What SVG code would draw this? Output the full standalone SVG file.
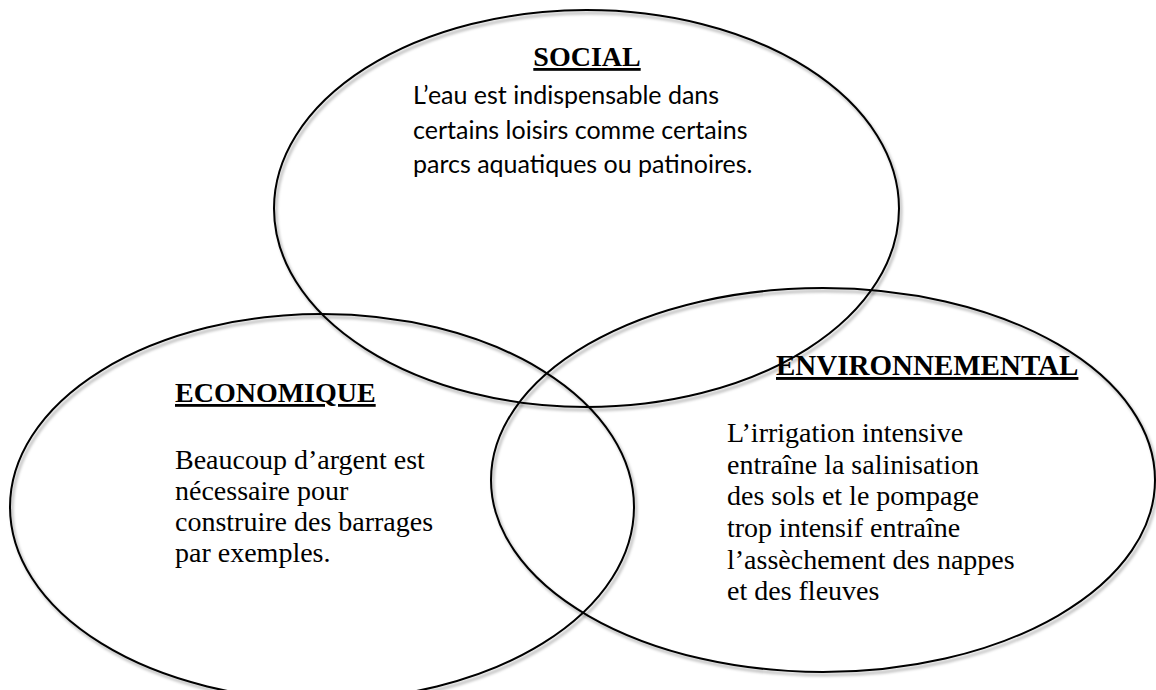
<svg xmlns="http://www.w3.org/2000/svg" width="1156" height="690" viewBox="0 0 1156 690">
  <defs>
    <filter id="shadow" x="-5%" y="-5%" width="110%" height="115%">
      <feDropShadow dx="2" dy="3" stdDeviation="1.5" flood-color="#000" flood-opacity="0.35"/>
    </filter>
  </defs>
  <style>
    .ring { fill: none; stroke: #000; stroke-width: 2; filter: url(#shadow); }
    .title { font-family: "Liberation Serif", serif; font-weight: bold; font-size: 28px; fill: #000; text-decoration: underline; }
    .serif { font-family: "Liberation Serif", serif; font-size: 28px; fill: #000; }
    .sans { font-family: Lato, "Open Sans", sans-serif; font-size: 25px; fill: #000; }
  </style>
  <rect width="1156" height="690" fill="#fff"/>
  <g id="social">
    <ellipse class="ring" cx="586.5" cy="208.5" rx="312.5" ry="198.5"/>
    <text class="title" x="587" y="66" text-anchor="middle">SOCIAL</text>
    <text class="sans" x="413" y="104">L’eau est indispensable dans</text>
    <text class="sans" x="413" y="139">certains loisirs comme certains</text>
    <text class="sans" x="413" y="173">parcs aquatiques ou patinoires.</text>
  </g>
  <g id="economique">
    <ellipse class="ring" cx="322" cy="507" rx="312" ry="193"/>
    <text class="title" x="175" y="402">ECONOMIQUE</text>
    <text class="serif" x="175" y="469">Beaucoup d’argent est</text>
    <text class="serif" x="175" y="500">nécessaire pour</text>
    <text class="serif" x="175" y="531">construire des barrages</text>
    <text class="serif" x="175" y="562">par exemples.</text>
  </g>
  <g id="environnemental">
    <ellipse class="ring" cx="823" cy="480" rx="332" ry="192"/>
    <text class="title" x="776" y="375" style="font-size:29px">ENVIRONNEMENTAL</text>
    <text class="serif" x="727" y="442">L’irrigation intensive</text>
    <text class="serif" x="727" y="474">entraîne la salinisation</text>
    <text class="serif" x="727" y="505">des sols et le pompage</text>
    <text class="serif" x="727" y="537">trop intensif entraîne</text>
    <text class="serif" x="727" y="569">l’assèchement des nappes</text>
    <text class="serif" x="727" y="600">et des fleuves</text>
  </g>
  <g id="connectors"/>
</svg>
